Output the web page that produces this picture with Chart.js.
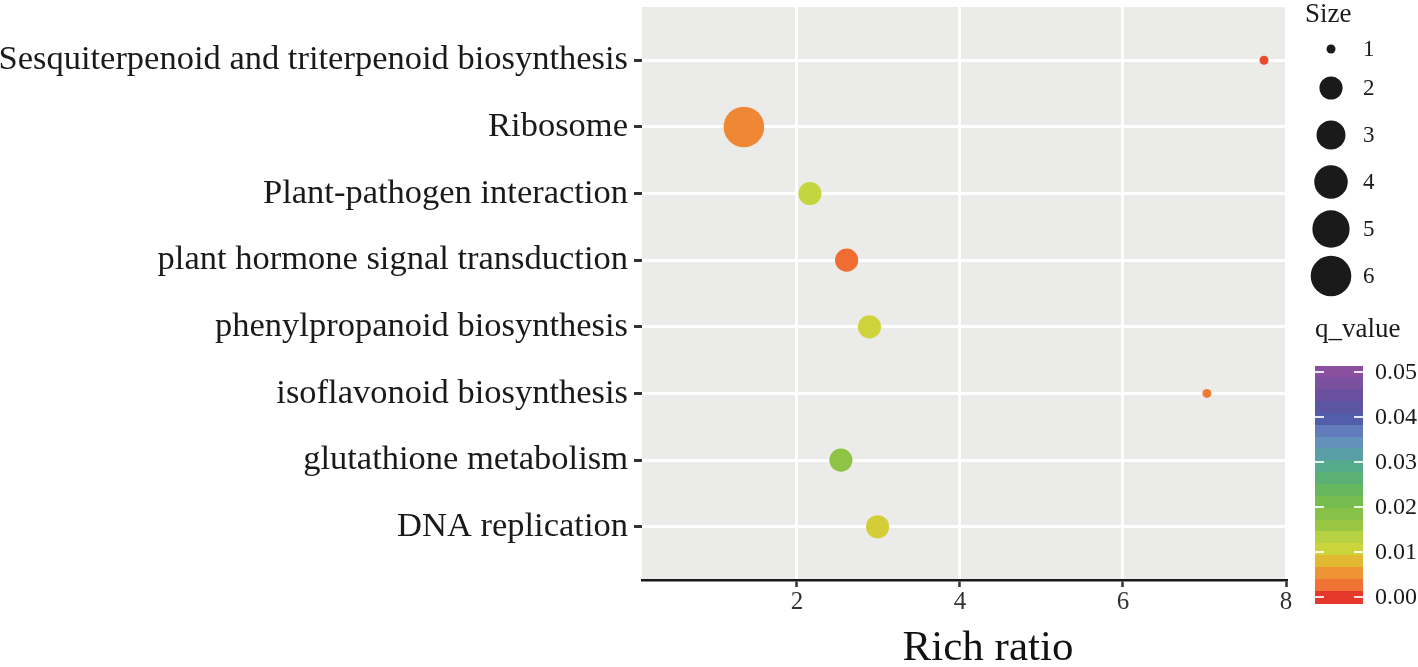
<!DOCTYPE html>
<html>
<head>
<meta charset="utf-8">
<script src="https://cdn.jsdelivr.net/npm/chart.js@4.4.1/dist/chart.umd.min.js"></script>
<style>
  html, body { margin: 0; padding: 0; background: #fff; }
  canvas { display: block; }
</style>
</head>
<body>
<canvas id="chart" width="1418" height="667"></canvas>
<script>
// pathways, top to bottom
const pathways = [
  "Sesquiterpenoid and triterpenoid biosynthesis",
  "Ribosome",
  "Plant-pathogen interaction",
  "plant hormone signal transduction",
  "phenylpropanoid biosynthesis",
  "isoflavonoid biosynthesis",
  "glutathione metabolism",
  "DNA replication"
];
const richRatio = [7.73, 1.35, 2.16, 2.61, 2.89, 7.03, 2.54, 2.99];
const geneCount = [1, 6, 2, 2, 2, 1, 2, 2];
const qValue = [0.0007, 0.0042, 0.0115, 0.0023, 0.0102, 0.003, 0.0175, 0.0095];

const xTicks = [2, 4, 6, 8];
const sizeBreaks = [1, 2, 3, 4, 5, 6];
const qBreaks = [0, 0.01, 0.02, 0.03, 0.04, 0.05];

const FONT = '"Liberation Serif", "Times New Roman", serif';

// colour ramp used for q_value (red -> yellow -> green -> blue -> purple)
const qStops = [
  [0.000, [229, 57, 45]],
  [0.0015, [238, 95, 48]],
  [0.003, [239, 122, 51]],
  [0.0045, [240, 138, 53]],
  [0.0065, [235, 165, 49]],
  [0.0085, [220, 194, 50]],
  [0.010, [207, 211, 58]],
  [0.012, [194, 213, 66]],
  [0.016, [152, 198, 67]],
  [0.0205, [123, 189, 76]],
  [0.025, [93, 180, 102]],
  [0.029, [85, 171, 140]],
  [0.032, [91, 156, 173]],
  [0.0355, [106, 138, 196]],
  [0.040, [79, 88, 165]],
  [0.045, [107, 80, 159]],
  [0.050, [139, 79, 159]]
];

function qColor(q) {
  if (q <= qStops[0][0]) return 'rgb(' + qStops[0][1].join(',') + ')';
  for (let i = 1; i < qStops.length; i++) {
    if (q <= qStops[i][0]) {
      const [q0, c0] = qStops[i - 1];
      const [q1, c1] = qStops[i];
      const t = (q - q0) / (q1 - q0);
      const c = c0.map((v, k) => Math.round(v + (c1[k] - v) * t));
      return 'rgb(' + c.join(',') + ')';
    }
  }
  return 'rgb(' + qStops[qStops.length - 1][1].join(',') + ')';
}

// ggplot-like area scale: radius grows with sqrt of the rescaled size
function radiusFor(size) {
  const t = (size - 1) / 5;
  return 4.5 + Math.sqrt(Math.max(0, t)) * 15.8;
}

const panelBg = {
  id: 'panelBg',
  beforeDraw(chart) {
    const a = chart.chartArea;
    const ctx = chart.ctx;
    ctx.save();
    ctx.fillStyle = '#ebebea';
    ctx.fillRect(a.left, a.top, a.right - a.left, a.bottom - a.top);
    ctx.restore();
  }
};

const legends = {
  id: 'legends',
  afterDraw(chart) {
    const ctx = chart.ctx;
    ctx.save();
    ctx.fillStyle = '#1a1a1a';
    ctx.textAlign = 'left';

    // x axis title (sits a little right of the panel centre in the original)
    ctx.font = '43px ' + FONT;
    ctx.textBaseline = 'alphabetic';
    ctx.textAlign = 'center';
    ctx.fillStyle = '#111';
    ctx.fillText('Rich ratio', 988, 660);
    ctx.textAlign = 'left';
    ctx.fillStyle = '#1a1a1a';

    // size legend
    ctx.font = '27px ' + FONT;
    ctx.fillText('Size', 1305, 22);
    ctx.font = '23px ' + FONT;
    ctx.textBaseline = 'middle';
    let y = 49;
    sizeBreaks.forEach((s, i) => {
      if (i === 1) y += 39;
      else if (i > 1) y += 47;
      ctx.beginPath();
      ctx.arc(1331, y, radiusFor(s), 0, Math.PI * 2);
      ctx.fill();
      ctx.fillText(String(s), 1363, y + 1);
    });

    // q_value colour bar
    ctx.font = '27px ' + FONT;
    ctx.textBaseline = 'alphabetic';
    ctx.fillText('q_value', 1315, 337);
    const barL = 1315, barW = 48, barT = 366, barB = 603;
    const y0 = 597, y5 = 372; // pixel rows of 0.00 and 0.05
    const toY = q => y0 + (y5 - y0) * q / 0.05;
    const bins = 20;
    const bh = (barB - barT) / bins;
    for (let i = 0; i < bins; i++) {
      const top = barT + i * bh;
      const q = (y0 - (top + bh / 2)) / (y0 - y5) * 0.05;
      ctx.fillStyle = qColor(q);
      ctx.fillRect(barL, Math.floor(top), barW, Math.ceil(bh) + 1);
    }
    ctx.strokeStyle = 'rgba(255,255,255,0.85)';
    ctx.lineWidth = 2;
    ctx.fillStyle = '#1a1a1a';
    ctx.font = '24px ' + FONT;
    ctx.textBaseline = 'middle';
    qBreaks.forEach(q => {
      const ty = Math.round(toY(q));
      ctx.beginPath();
      ctx.moveTo(barL, ty); ctx.lineTo(barL + 9, ty);
      ctx.moveTo(barL + barW - 9, ty); ctx.lineTo(barL + barW, ty);
      ctx.stroke();
      ctx.fillText(q.toFixed(2), 1375, ty + 1);
    });
    ctx.restore();
  }
};

const points = pathways.map((p, i) => ({ x: richRatio[i], y: i }));

new Chart(document.getElementById('chart'), {
  type: 'scatter',
  data: {
    datasets: [{
      data: points,
      pointRadius: c => radiusFor(geneCount[c.dataIndex]),
      pointHoverRadius: c => radiusFor(geneCount[c.dataIndex]),
      backgroundColor: c => qColor(qValue[c.dataIndex]),
      borderWidth: 0
    }]
  },
  options: {
    responsive: false,
    animation: false,
    layout: { autoPadding: false, padding: { top: 7, right: 132, left: 0, bottom: 0 } },
    plugins: {
      legend: { display: false },
      tooltip: { enabled: false }
    },
    scales: {
      x: {
        type: 'linear',
        min: 0.1,
        max: 8,
        afterBuildTicks: s => { s.ticks = xTicks.map(v => ({ value: v })); },
        afterFit: s => { s.height = 87; s.paddingLeft = 0; s.paddingRight = 0; },
        grid: { color: '#ffffff', lineWidth: 3, tickColor: '#333', tickWidth: 2.5, tickLength: 7 },
        border: { display: true, color: '#1a1a1a', width: 2.5 },
        ticks: { color: '#333', font: { family: FONT, size: 25 }, padding: 0, maxRotation: 0 }
      },
      y: {
        type: 'linear',
        reverse: true,
        min: -0.8,
        max: 7.8,
        afterBuildTicks: s => { s.ticks = pathways.map((p, i) => ({ value: i })); },
        afterFit: s => { s.width = 642; s.paddingTop = 0; s.paddingBottom = 0; },
        grid: { color: '#ffffff', lineWidth: 3, tickColor: '#333', tickWidth: 3, tickLength: 8 },
        border: { display: false },
        ticks: {
          color: '#1a1a1a',
          font: { family: FONT, size: 34.5 },
          padding: 6,
          callback: v => pathways[v]
        }
      }
    }
  },
  plugins: [panelBg, legends]
});
</script>
</body>
</html>
